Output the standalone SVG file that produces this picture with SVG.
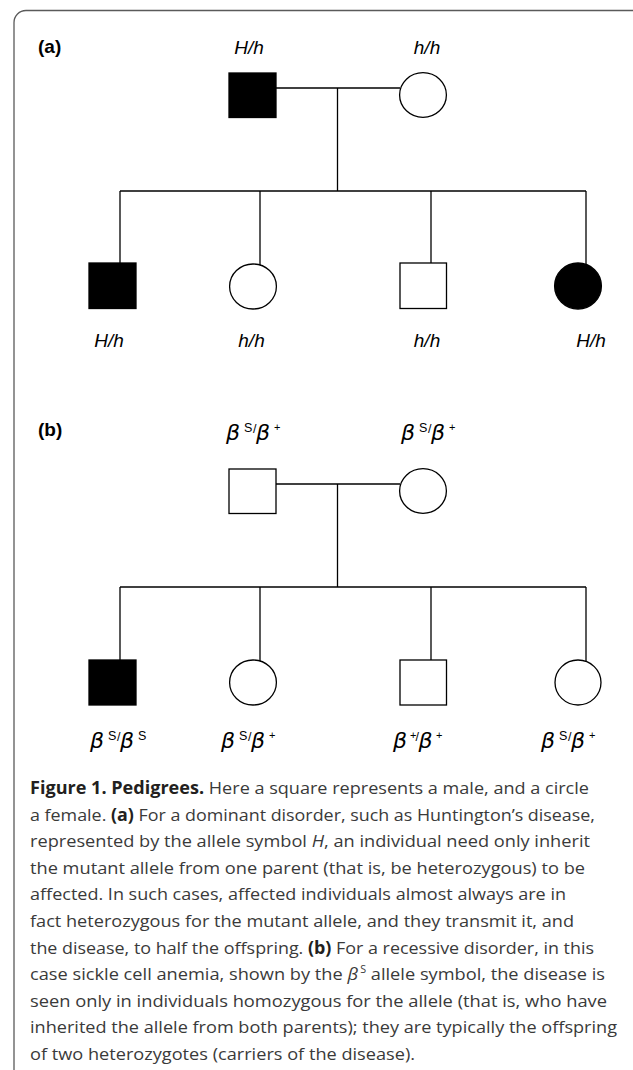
<svg xmlns="http://www.w3.org/2000/svg" width="633" height="1070" viewBox="0 0 633 1070">
<style>
.frame{fill:#fff;stroke:#5a5a5a;stroke-width:1.3}
.ln{stroke:#000;stroke-width:1.3;fill:none}
.aff{fill:#000;stroke:#000;stroke-width:1.3}
.un{fill:#fff;stroke:#000;stroke-width:1.3}
.lab{font-family:"Liberation Sans",Arial,sans-serif;font-style:italic;font-size:19px;fill:#000;text-anchor:middle}
.pl{font-family:"Liberation Sans",Arial,sans-serif;font-weight:bold;font-size:19px;fill:#000}
.gb{font-family:"DejaVu Sans",sans-serif;font-style:oblique;font-size:22px;fill:#000}
.gs{font-family:"Liberation Sans",Arial,sans-serif;font-size:12.5px;fill:#000}
.gp{font-family:"Liberation Sans",Arial,sans-serif;font-size:11px;fill:#000}
.cap{font-family:"Open Sans","Noto Sans",sans-serif;font-size:17px;fill:#3a3a3a}
.cb{font-weight:bold;fill:#231f20}
.ci{font-style:italic}
</style>
<rect class="frame" x="14" y="10.5" width="640" height="1100" rx="12"/>

<!-- (a) -->
<text class="pl" x="38" y="53">(a)</text>
<g id="connectors-a">
<line class="ln" x1="276" y1="88" x2="400" y2="88"/>
<line class="ln" x1="337.5" y1="88" x2="337.5" y2="191"/>
<line class="ln" x1="120" y1="191" x2="586" y2="191"/>
<line class="ln" x1="120" y1="191" x2="120" y2="263"/>
<line class="ln" x1="260" y1="191" x2="260" y2="265"/>
<line class="ln" x1="431" y1="191" x2="431" y2="263"/>
<line class="ln" x1="586" y1="191" x2="586" y2="264.5"/>
</g>
<g id="a-father"><rect class="aff" x="229" y="73" width="47" height="44.5"/><text class="lab" x="249" y="54">H/h</text></g>
<g id="a-mother"><ellipse class="un" cx="423" cy="95" rx="23.4" ry="22.3"/><text class="lab" x="427" y="54">h/h</text></g>
<g id="a-child1"><rect class="aff" x="89" y="263" width="47" height="45.5"/><text class="lab" x="109" y="347">H/h</text></g>
<g id="a-child2"><ellipse class="un" cx="253" cy="286.5" rx="23.4" ry="22.5"/><text class="lab" x="251.5" y="347">h/h</text></g>
<g id="a-child3"><rect class="un" x="400" y="263" width="46.5" height="45.5"/><text class="lab" x="427" y="347">h/h</text></g>
<g id="a-child4"><ellipse class="aff" cx="578" cy="286" rx="23.4" ry="23"/><text class="lab" x="591" y="347">H/h</text></g>

<!-- (b) -->
<text class="pl" x="38" y="436">(b)</text>
<g id="connectors-b">
<line class="ln" x1="276" y1="484" x2="400" y2="484"/>
<line class="ln" x1="337.5" y1="484" x2="337.5" y2="587"/>
<line class="ln" x1="120" y1="587" x2="586" y2="587"/>
<line class="ln" x1="120" y1="587" x2="120" y2="660"/>
<line class="ln" x1="260" y1="587" x2="260" y2="662"/>
<line class="ln" x1="431" y1="587" x2="431" y2="660"/>
<line class="ln" x1="586" y1="587" x2="586" y2="661.5"/>
</g>
<g id="b-father"><rect class="un" x="229" y="469" width="47" height="44.5"/>
<text class="gb" x="226" y="440">β</text><text class="gs" x="244" y="432">S</text><text class="gs" x="253" y="433">/</text>
<text class="gb" x="256" y="440">β</text><text class="gp" x="274" y="431">+</text></g>
<g id="b-mother"><ellipse class="un" cx="423" cy="491" rx="23.4" ry="22.3"/>
<text class="gb" x="401" y="440">β</text><text class="gs" x="419" y="432">S</text><text class="gs" x="428" y="433">/</text>
<text class="gb" x="431" y="440">β</text><text class="gp" x="449" y="431">+</text></g>
<g id="b-child1"><rect class="aff" x="89" y="660" width="47" height="45"/>
<text class="gb" x="90" y="748">β</text><text class="gs" x="108" y="740">S</text><text class="gs" x="117" y="741">/</text>
<text class="gb" x="120" y="748">β</text><text class="gs" x="138" y="740">S</text></g>
<g id="b-child2"><ellipse class="un" cx="253" cy="682.5" rx="23.4" ry="22.5"/>
<text class="gb" x="221" y="748">β</text><text class="gs" x="239" y="740">S</text><text class="gs" x="248" y="741">/</text>
<text class="gb" x="251" y="748">β</text><text class="gp" x="269" y="739">+</text></g>
<g id="b-child3"><rect class="un" x="400" y="660" width="46.5" height="45"/>
<text class="gb" x="393" y="748">β</text><text class="gp" x="410" y="739">+</text><text class="gs" x="415.5" y="741">/</text>
<text class="gb" x="418.5" y="748">β</text><text class="gp" x="436" y="739">+</text></g>
<g id="b-child4"><ellipse class="un" cx="578" cy="682.5" rx="23" ry="22.5"/>
<text class="gb" x="541" y="748">β</text><text class="gs" x="559" y="740">S</text><text class="gs" x="568" y="741">/</text>
<text class="gb" x="571" y="748">β</text><text class="gp" x="589" y="739">+</text></g>

<!-- caption -->
<g id="caption">
<text class="cap" x="30" y="794" textLength="559" lengthAdjust="spacingAndGlyphs"><tspan class="cb">Figure 1. Pedigrees.</tspan> Here a square represents a male, and a circle</text>
<text class="cap" x="30" y="820.6" textLength="565" lengthAdjust="spacingAndGlyphs">a female. <tspan class="cb">(a)</tspan> For a dominant disorder, such as Huntington’s disease,</text>
<text class="cap" x="30" y="847.2" textLength="560" lengthAdjust="spacingAndGlyphs">represented by the allele symbol <tspan class="ci">H</tspan>, an individual need only inherit</text>
<text class="cap" x="30" y="873.8" textLength="555" lengthAdjust="spacingAndGlyphs">the mutant allele from one parent (that is, be heterozygous) to be</text>
<text class="cap" x="30" y="900.4" textLength="536" lengthAdjust="spacingAndGlyphs">affected. In such cases, affected individuals almost always are in</text>
<text class="cap" x="30" y="927" textLength="544" lengthAdjust="spacingAndGlyphs">fact heterozygous for the mutant allele, and they transmit it, and</text>
<text class="cap" x="30" y="953.6" textLength="564" lengthAdjust="spacingAndGlyphs">the disease, to half the offspring. <tspan class="cb">(b)</tspan> For a recessive disorder, in this</text>
<text class="cap" x="30" y="980.2" textLength="575" lengthAdjust="spacingAndGlyphs">case sickle cell anemia, shown by the <tspan class="ci">β</tspan><tspan font-size="10" dx="2" dy="-7">S</tspan><tspan dy="7"> allele symbol, the disease is</tspan></text>
<text class="cap" x="30" y="1006.8" textLength="577" lengthAdjust="spacingAndGlyphs">seen only in individuals homozygous for the allele (that is, who have</text>
<text class="cap" x="30" y="1033.4" textLength="587" lengthAdjust="spacingAndGlyphs">inherited the allele from both parents); they are typically the offspring</text>
<text class="cap" x="30" y="1060" textLength="385" lengthAdjust="spacingAndGlyphs">of two heterozygotes (carriers of the disease).</text>
</g>
</svg>
